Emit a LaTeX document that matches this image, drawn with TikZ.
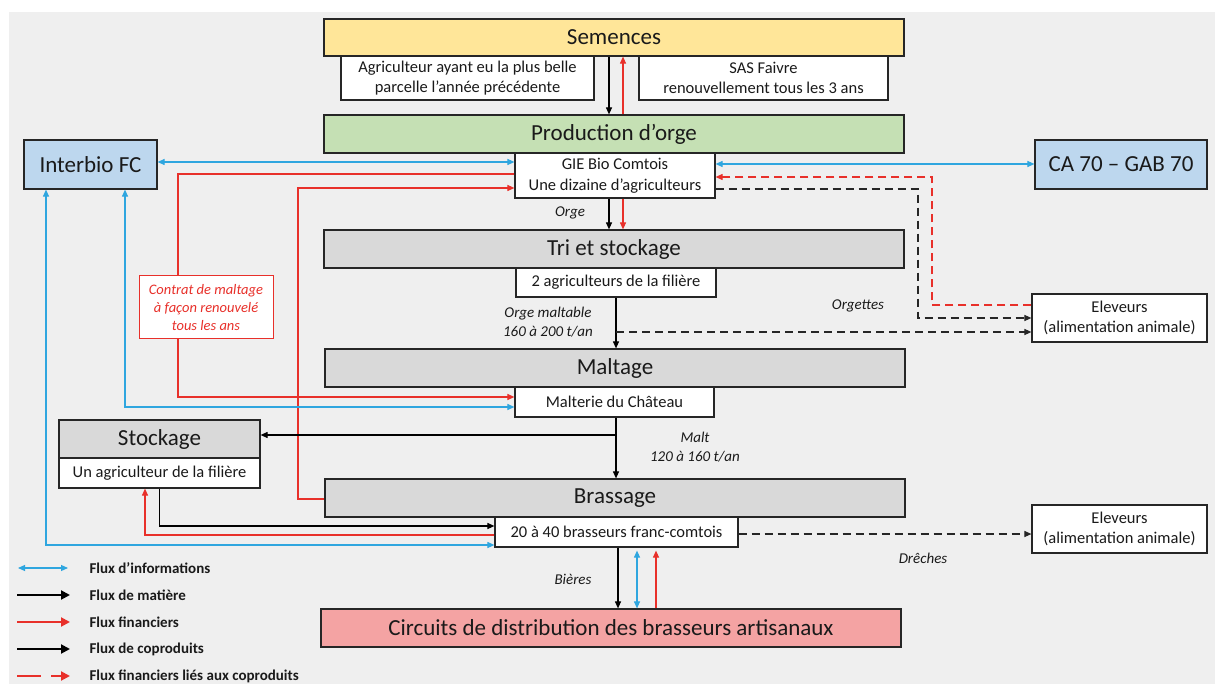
\documentclass[tikz,border=0pt]{standalone}
\usepackage{fontspec}
\setmainfont{Carlito}
\usetikzlibrary{arrows.meta}
\definecolor{bgc}{HTML}{EFEFEF}
\definecolor{yelc}{HTML}{FFE699}
\definecolor{grnc}{HTML}{C5E0B4}
\definecolor{gryc}{HTML}{D9D9D9}
\definecolor{lbc}{HTML}{BDD7EE}
\definecolor{pnkc}{HTML}{F4A3A3}
\definecolor{bluc}{HTML}{2FA6DF}
\definecolor{redc}{HTML}{E8302A}
\definecolor{brdc}{HTML}{262626}
\definecolor{txtc}{HTML}{1A1A1A}
\tikzset{
  box/.style={draw=brdc, line width=1.2pt, inner sep=0pt, align=center, text=txtc},
  bigbox/.style={box, font=\fontsize{23}{27}\selectfont},
  smallbox/.style={box, fill=white, font=\fontsize{16.5}{20.5}\selectfont},
  lab/.style={font=\fontsize{15}{19}\selectfont\itshape, align=center, text=txtc},
  tip/.style={-{Triangle[length=7pt,width=6pt]}},
  mat/.style={draw=black, line width=1.1pt, tip},
  fin/.style={draw=redc, line width=1.1pt, tip},
  info/.style={draw=bluc, line width=1.1pt, {Triangle[length=7pt,width=6pt]}-{Triangle[length=7pt,width=6pt]}},
  copro/.style={draw=black!85, line width=1.1pt, dash pattern=on 8pt off 5pt, tip},
  finco/.style={draw=redc, line width=1.1pt, dash pattern=on 8pt off 5pt, tip},
  legtext/.style={anchor=west, font=\fontsize{15}{17}\selectfont\bfseries, text=txtc},
  legtip/.style={-{Triangle[length=9pt,width=9pt]}}
}
\begin{document}
\begin{tikzpicture}[x=1pt,y=-1pt]
\useasboundingbox (0,0) rectangle (1215,684);
\fill[white] (0,0) rectangle (1215,684);
\fill[bgc] (9,12) rectangle (1215,684);

% main boxes
\node[bigbox, fill=yelc, minimum width=580pt, minimum height=37pt] (sem) at (614,37.5) {Semences};
\node[smallbox, minimum width=253pt, minimum height=44pt] (agri) at (467.5,78) {Agriculteur ayant eu la plus belle\\parcelle l’année précédente};
\node[smallbox, minimum width=249pt, minimum height=44pt] (sas) at (763.5,78) {SAS Faivre\\renouvellement tous les 3 ans};
\node[bigbox, fill=grnc, minimum width=580pt, minimum height=38pt] (prod) at (614,134) {Production d’orge};
\node[smallbox, minimum width=200pt, minimum height=45pt] (gie) at (615,175.5) {GIE Bio Comtois\\Une dizaine d’agriculteurs};
\node[bigbox, fill=lbc, minimum width=133pt, minimum height=49pt] (inter) at (90.5,164.5) {Interbio FC};
\node[bigbox, fill=lbc, minimum width=172pt, minimum height=49pt] (ca) at (1121,164.5) {CA 70 – GAB 70};
\node[bigbox, fill=gryc, minimum width=580pt, minimum height=38pt] (tri) at (614,249) {Tri et stockage};
\node[smallbox, minimum width=200pt, minimum height=29pt] (deux) at (616,282.5) {2 agriculteurs de la filière};
\node[bigbox, fill=gryc, minimum width=580pt, minimum height=38pt] (malt) at (615,368) {Maltage};
\node[smallbox, minimum width=199pt, minimum height=30pt] (malterie) at (614.5,402) {Malterie du Château};
\node[smallbox, minimum width=175pt, minimum height=48pt] (elev1) at (1119.5,318) {Eleveurs\\(alimentation animale)};
\node[bigbox, fill=gryc, minimum width=201pt, minimum height=38pt] (stock) at (159.5,439) {Stockage};
\node[smallbox, minimum width=201pt, minimum height=30pt] (unagri) at (159.5,473) {Un agriculteur de la filière};
\node[bigbox, fill=gryc, minimum width=580pt, minimum height=38pt] (brass) at (615,498) {Brassage};
\node[smallbox, minimum width=243pt, minimum height=30pt] (vingt) at (616.5,532) {20 à 40 brasseurs franc-comtois};
\node[smallbox, minimum width=175pt, minimum height=48pt] (elev2) at (1119.5,529) {Eleveurs\\(alimentation animale)};
\node[bigbox, fill=pnkc, minimum width=580pt, minimum height=38pt] (circ) at (611,628) {Circuits de distribution des brasseurs artisanaux};

% connectors
\draw[mat] ([xshift=-5pt]sem.south) -- ([xshift=-5pt]prod.north);
\draw[fin] ([xshift=9pt]prod.north) -- ([xshift=9pt]sem.south);
\draw[info] (inter.east |- 0,162) -- (gie.west |- 0,162);
\draw[info] (gie.east |- 0,164) -- (ca.west |- 0,164);
\draw[fin] (gie.west |- 0,174) -| (178,397) -- (malterie.west |- 0,397);
\draw[fin] (brass.west |- 0,499) -| (298,188) -- (gie.west |- 0,188);
\draw[info] (malterie.west |- 0,407) -| (inter.south -| 125,0);
\draw[info] (vingt.west |- 0,545) -| (inter.south -| 46,0);
\draw[finco] (elev1.west |- 0,305) -| (932,177) -- (gie.east |- 0,177);
\draw[copro] (gie.east |- 0,189) -| (918,318) -- (elev1.west |- 0,318);
\draw[mat] ([xshift=-6pt]gie.south) -- ([xshift=-6pt]gie.south |- tri.north);
\draw[fin] ([xshift=8pt]gie.south) -- ([xshift=8pt]gie.south |- tri.north);
\draw[mat] (deux.south) -- (deux.south |- malt.north);
\draw[copro] (deux.south |- 0,332) -- (elev1.west |- 0,332);
\draw[mat] ([xshift=1.5pt]malterie.south) -- ([xshift=1.5pt]malterie.south |- brass.north);
\draw[mat] ([xshift=1.5pt]malterie.south |- 0,435) -- (stock.east |- 0,435);
\draw[mat] (unagri.south) |- (vingt.west |- 0,526);
\draw[fin] (vingt.west |- 0,535) -| (unagri.south -| 145,0);
\draw[copro] (vingt.east |- 0,534) -- (elev2.west |- 0,534);
\draw[mat] ([xshift=1.5pt]vingt.south) -- ([xshift=1.5pt]vingt.south |- circ.north);
\draw[info] ([xshift=20.5pt,yshift=-3pt]vingt.south) -- ([xshift=20.5pt]vingt.south |- circ.north);
\draw[fin] ([xshift=39.5pt]vingt.south |- circ.north) -- ([xshift=39.5pt,yshift=-3pt]vingt.south);

% contract box on top of red line
\node[draw=redc, line width=1pt, fill=white, minimum width=134pt, minimum height=63pt, inner sep=0pt,
      align=center, text=redc, font=\fontsize{14.5}{18}\selectfont\itshape] (contrat) at (206,307.5)
      {Contrat de maltage\\à façon renouvelé\\tous les ans};

% labels
\node[lab] (lorge) at (570,213) {Orge};
\node[lab] (lorgem) at (548,322) {Orge maltable\\160 à 200 t/an};
\node[lab] (lorgettes) at (858,306) {Orgettes};
\node[lab] (lmalt) at (695,447) {Malt\\120 à 160 t/an};
\node[lab] (ldreches) at (923,558) {Drêches};
\node[lab] (lbieres) at (573,579) {Bières};

% legend
\coordinate (la1) at (18,568); \coordinate (lb1) at (68,568);
\coordinate (la2) at (17,595); \coordinate (lb2) at (70,595);
\coordinate (la3) at (17,622); \coordinate (lb3) at (70,622);
\coordinate (la4) at (17,649); \coordinate (lb4) at (70,649);
\coordinate (la5) at (17,676); \coordinate (lb5) at (70,676);
\draw[info] (la1) -- (lb1);
\draw[draw=black, line width=2pt, legtip] (la2) -- (lb2);
\draw[draw=redc, line width=2pt, legtip] (la3) -- (lb3);
\draw[draw=black, line width=2pt, legtip] (la4) -- (lb4);
\draw[draw=redc, line width=2pt, dash pattern=on 24pt off 10pt, legtip] (la5) -- (lb5);
\node[legtext] (t1) at (86,568) {Flux d’informations};
\node[legtext] (t2) at (86,595) {Flux de matière};
\node[legtext] (t3) at (86,622) {Flux financiers};
\node[legtext] (t4) at (86,649) {Flux de coproduits};
\node[legtext] (t5) at (86,676) {Flux financiers liés aux coproduits};
\end{tikzpicture}
\end{document}
